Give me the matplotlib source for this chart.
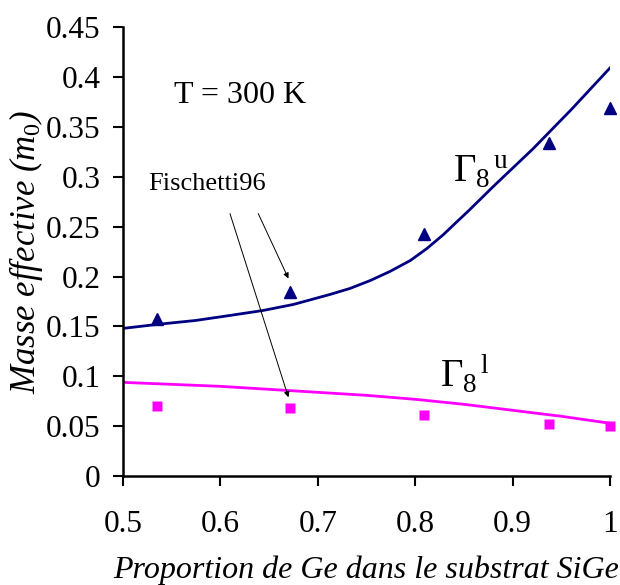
import matplotlib
matplotlib.use("Agg")
from matplotlib import pyplot as plt
from matplotlib.ticker import FuncFormatter

plt.rcParams['font.family'] = ['Liberation Serif', 'DejaVu Serif']
plt.rcParams['mathtext.fontset'] = 'custom'
plt.rcParams['mathtext.rm'] = 'Liberation Serif'
plt.rcParams['mathtext.it'] = 'Liberation Serif:italic'

# model curves
x_u_curve = [0.5, 0.535, 0.575, 0.61, 0.644, 0.675, 0.7125, 0.733, 0.754, 0.774,
             0.795, 0.812, 0.829, 0.843, 0.855, 0.88, 0.921, 0.96, 1.0]
gamma_u_curve = [0.148, 0.152, 0.156, 0.161, 0.166, 0.172, 0.182, 0.188, 0.196, 0.205,
                 0.216, 0.228, 0.242, 0.255, 0.266, 0.290, 0.328, 0.367, 0.409]
x_l_curve = [0.5, 0.55, 0.6, 0.65, 0.7, 0.75, 0.8, 0.85, 0.9, 0.95, 1.0]
gamma_l_curve = [0.094, 0.092, 0.090, 0.087, 0.084, 0.081, 0.077, 0.072, 0.066, 0.060, 0.053]

# Fischetti96 points
x_pts = [0.535, 0.672, 0.809, 0.937, 1.0]
gamma_u_pts = [0.157, 0.184, 0.243, 0.334, 0.369]
gamma_l_pts = [0.070, 0.068, 0.061, 0.052, 0.050]

navy = '#000080'
magenta = '#FF00FF'

fig = plt.figure(figsize=(6.2, 5.85), dpi=100)
ax = fig.add_axes([0.198, 0.186, 0.786, 0.768])

ax.plot(x_u_curve, gamma_u_curve, color=navy, lw=2)
ax.plot(x_l_curve, gamma_l_curve, color=magenta, lw=2)
ax.plot(x_pts, gamma_u_pts, '^', color=navy, ms=8.5, clip_on=False)
ax.plot(x_pts, gamma_l_pts, 's', color=magenta, ms=7, mec='none', clip_on=False)

ax.set_xlim(0.5, 1.0)
ax.set_ylim(0, 0.45)
ax.set_xticks([0.5, 0.6, 0.7, 0.8, 0.9, 1.0])
ax.set_yticks([0, 0.05, 0.1, 0.15, 0.2, 0.25, 0.3, 0.35, 0.4, 0.45])
fmt = FuncFormatter(lambda v, p: '%g' % round(v, 3))
ax.xaxis.set_major_formatter(fmt)
ax.yaxis.set_major_formatter(fmt)

for side in ['top', 'right']:
    ax.spines[side].set_visible(False)
for side in ['left', 'bottom']:
    ax.spines[side].set_linewidth(1.8)
ax.tick_params(axis='both', direction='out', length=7, width=1.5, labelsize=22.5)
ax.tick_params(axis='y', pad=9)
ax.tick_params(axis='x', pad=17)

ax.set_xlabel('Proportion de Ge dans le substrat SiGe', fontsize=23, style='italic', labelpad=12)
ax.set_ylabel(r'Masse effective ($m_0$)', fontsize=25, style='italic', labelpad=1)

ax.text(0.62, 0.374, 'T = 300 K', fontsize=23, ha='center', va='baseline')
ax.text(0.839, 0.294, r'$\mathrm{\Gamma_8{}^{\,u}}$', fontsize=28, ha='left', va='baseline')
ax.text(0.825, 0.089, r'$\mathrm{\Gamma_8{}^{\,l}}$', fontsize=28, ha='left', va='baseline')
ax.text(0.526, 0.293, 'Fischetti96', fontsize=19, ha='left', va='center')

arrow = dict(arrowstyle='-|>', color='black', lw=0.7, mutation_scale=8, shrinkA=0, shrinkB=0)
ax.annotate('', xy=(0.670, 0.198), xytext=(0.639, 0.263), arrowprops=arrow)
ax.annotate('', xy=(0.670, 0.079), xytext=(0.610, 0.263), arrowprops=arrow)

fig.savefig('out.png', dpi=100)
